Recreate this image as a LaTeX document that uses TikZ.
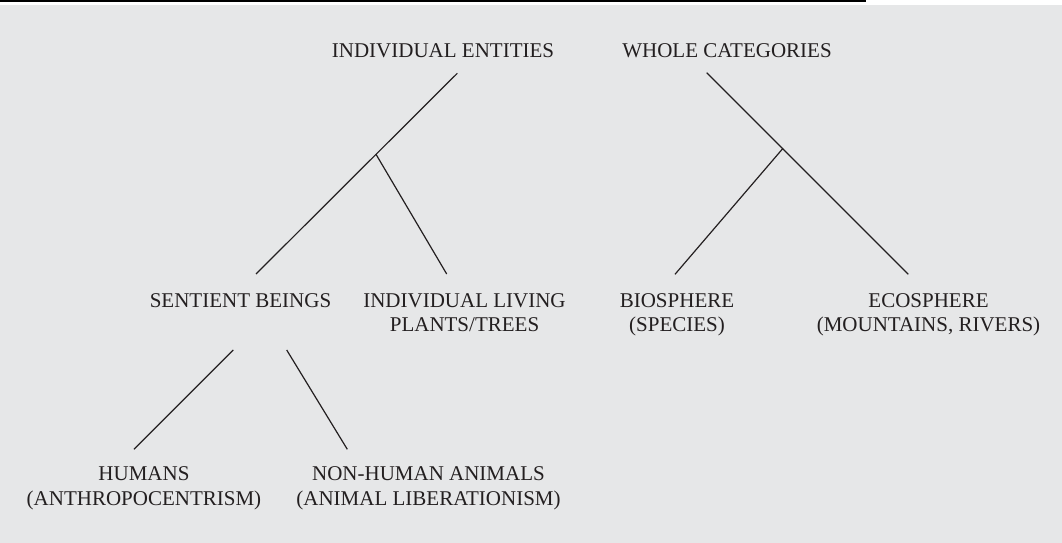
\documentclass[tikz,border=0pt]{standalone}
\usepackage{fontspec}
\setmainfont{Liberation Serif}
\definecolor{bggray}{HTML}{E6E7E8}
\definecolor{ink}{HTML}{231F20}
\begin{document}
\begin{tikzpicture}[x=1pt,y=-1pt,
  lbl/.style={inner sep=0pt, anchor=base, align=center, text=ink,
    font=\fontsize{21}{24.5}\selectfont},
  link/.style={draw=ink, line width=1.2pt}]
\useasboundingbox (0,0) rectangle (1062,543);
\fill[black] (0,0) rectangle (866,2.4);
\fill[bggray] (0,5) rectangle (1062,543);
% labels (base anchor = baseline of the last line)
\node[lbl] (ie) at (443,57) {INDIVIDUAL ENTITIES};
\node[lbl] (wc) at (727,57) {WHOLE CATEGORIES};
\node[lbl] (sb) at (240.5,307) {SENTIENT BEINGS};
\node[lbl] (pl) at (464.5,331.5) {INDIVIDUAL LIVING\\PLANTS/TREES};
\node[lbl] (bi) at (677,331.5) {BIOSPHERE\\(SPECIES)};
\node[lbl] (ec) at (928.5,331.5) {ECOSPHERE\\(MOUNTAINS, RIVERS)};
\node[lbl] (hu) at (144,505) {HUMANS\\(ANTHROPOCENTRISM)};
\node[lbl] (an) at (428.5,505) {NON-HUMAN ANIMALS\\(ANIMAL LIBERATIONISM)};
% connector end points
\coordinate (ieB) at (457.3,73.3);
\coordinate (sbT) at (256,274);
\coordinate (j1) at (376,154.3);
\coordinate (plT) at (446.7,274);
\coordinate (wcB) at (706.7,72.7);
\coordinate (ecT) at (908.3,274.3);
\coordinate (j2) at (783,148.3);
\coordinate (biT) at (675,274.3);
\coordinate (sbB1) at (233.3,350);
\coordinate (huT) at (134,449.3);
\coordinate (sbB2) at (286.7,350);
\coordinate (anT) at (347.3,449.3);
% connectors
\draw[link] (ieB) -- (sbT);
\draw[link] (j1) -- (plT);
\draw[link] (wcB) -- (ecT);
\draw[link] (j2) -- (biT);
\draw[link] (sbB1) -- (huT);
\draw[link] (sbB2) -- (anT);
\end{tikzpicture}
\end{document}
